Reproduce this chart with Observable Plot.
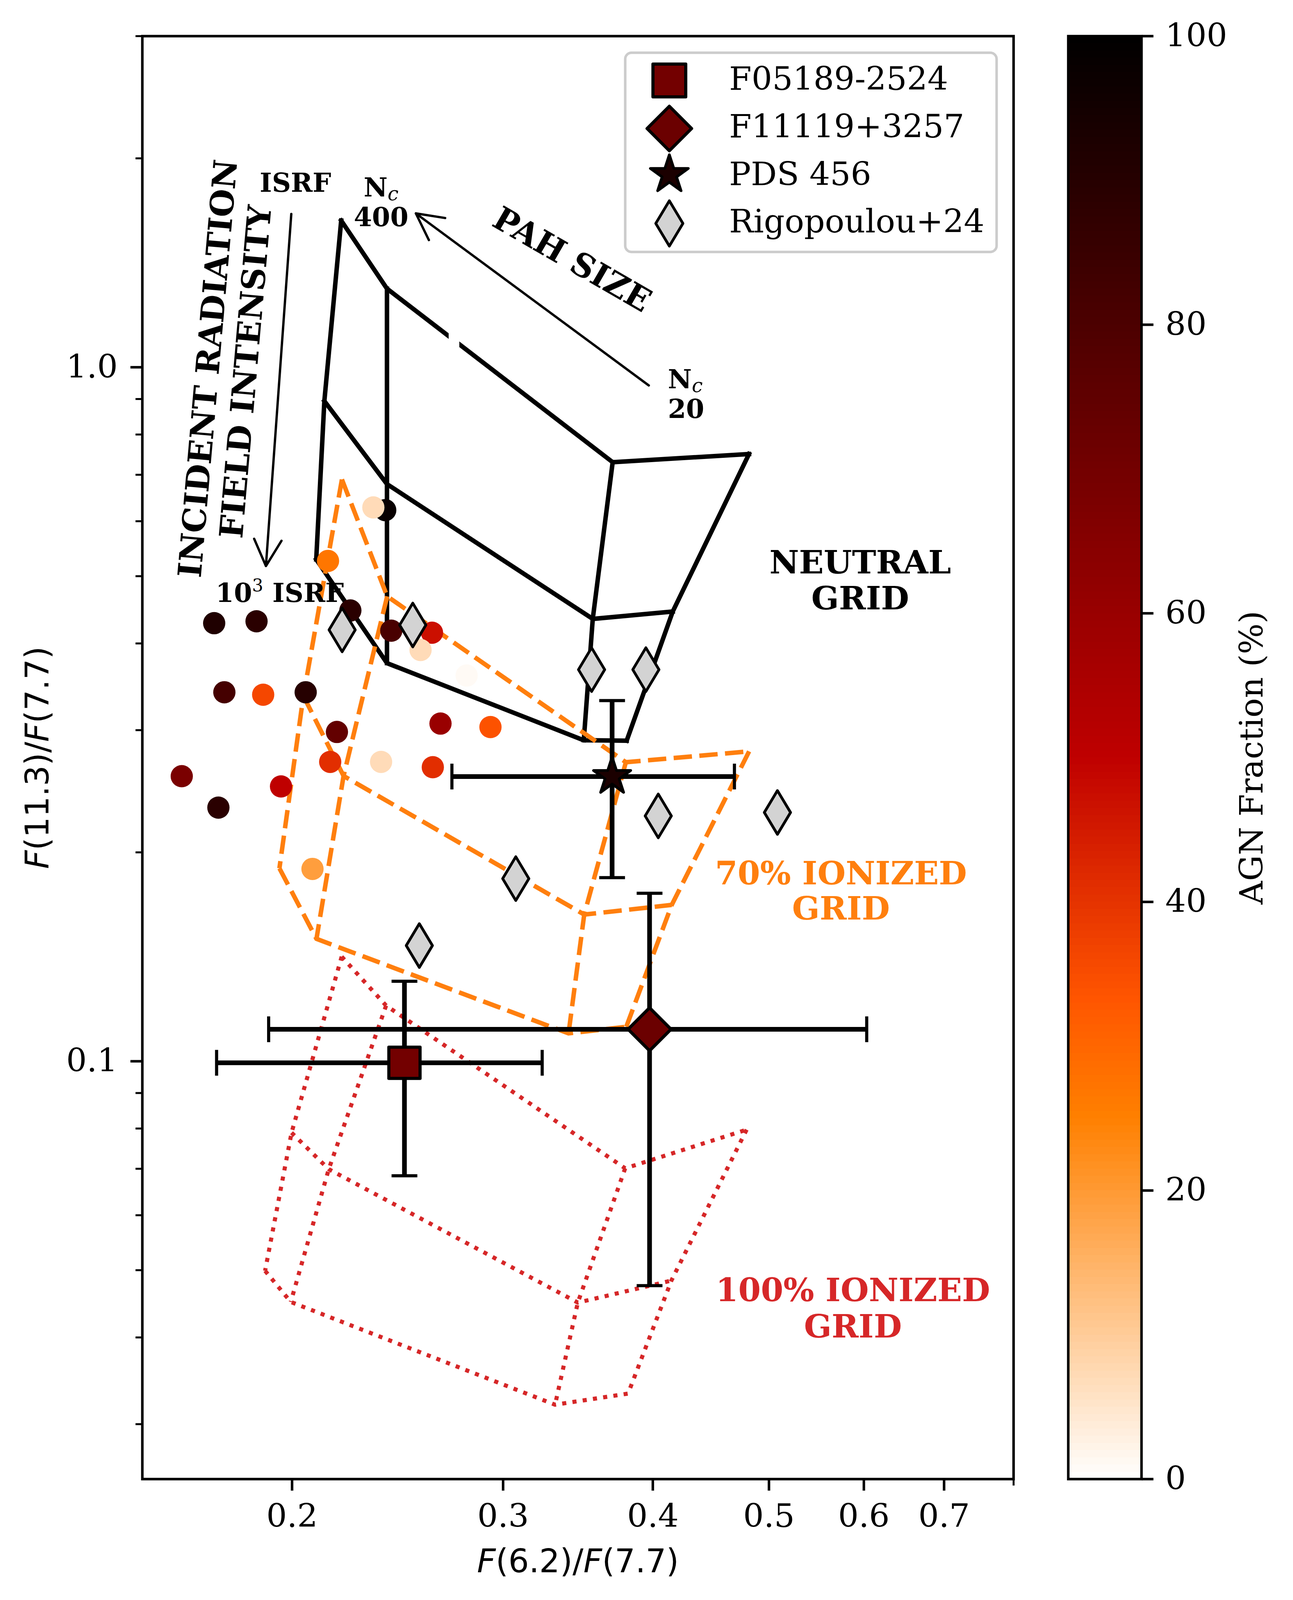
<!DOCTYPE html>
<html>
<head>
<meta charset="utf-8">
<script src="https://cdn.jsdelivr.net/npm/d3@7"></script>
<script src="https://cdn.jsdelivr.net/npm/@observablehq/plot@0.6"></script>
<style>
  html, body { margin: 0; padding: 0; background: #ffffff; }
  #fig { position: relative; width: 3311px; height: 4099px; overflow: hidden; background: #ffffff; }
  #fig svg { max-width: none; }
</style>
</head>
<body>
<div id="fig"></div>
<script>
// ---------------- DATA ----------------
// axis domains and ticks
const xDomain = [0.15, 0.8];
const yDomain = [0.025, 3.0];
const xMajorTicks = [0.2, 0.3, 0.4, 0.5, 0.6, 0.7];
const xMinorTicks = [0.8];
const yMajorTicks = [0.1, 1];
const yMinorTicks = [0.03, 0.04, 0.05, 0.06, 0.07, 0.08, 0.09, 0.2, 0.3, 0.4, 0.5, 0.6, 0.7, 0.8, 0.9, 2, 3];
const cbarTicks = [0, 20, 40, 60, 80, 100];

// AGN-fraction coloured comparison sample
const sampleX = [0.2392, 0.2338, 0.2143, 0.1722, 0.1868, 0.2237, 0.2420, 0.2617, 0.2560, 0.2797, 0.1756, 0.1892, 0.2053, 0.2180, 0.2660, 0.2928, 0.2152, 0.2373, 0.2621, 0.1618, 0.1958, 0.1736, 0.2080];
const sampleY = [0.6225, 0.6281, 0.5260, 0.4278, 0.4305, 0.4462, 0.4173, 0.4145, 0.3914, 0.3596, 0.3402, 0.3374, 0.3402, 0.2982, 0.3066, 0.3031, 0.2700, 0.2700, 0.2653, 0.2575, 0.2489, 0.2320, 0.1893];
const sampleAGN = [98, 7, 27, 92, 89, 89, 81, 47, 7, 1, 82, 36, 90, 74, 60, 34, 41, 7, 41, 68, 50, 89, 19];

// Rigopoulou+24
const rigoLabel = "Rigopoulou+24";
const rigoX = [0.2202, 0.2522, 0.3556, 0.3947, 0.4042, 0.5082, 0.3074, 0.2554];
const rigoY = [0.4184, 0.4252, 0.3667, 0.3667, 0.2257, 0.2283, 0.1833, 0.1468];

// Targets with error bars
const targetNames = ["F05189-2524", "F11119+3257", "PDS 456"];
const targetX = [0.2482, 0.3975, 0.3699];
const targetY = [0.0995, 0.1112, 0.2572];
const targetXlo = [0.1730, 0.1912, 0.2719];
const targetXhi = [0.3234, 0.6033, 0.4679];
const targetYlo = [0.0684, 0.0475, 0.1839];
const targetYhi = [0.1304, 0.1746, 0.3309];
const targetAGN = [70, 72, 93];

// Model grids: rows = radiation field (ISRF, mid, 10^3 ISRF), columns = N_c (400 ... 20)
const neutralX = [[0.2198, 0.2400, 0.3703, 0.4812], [0.2128, 0.2400, 0.3564, 0.4156], [0.2095, 0.2400, 0.3503, 0.3804]];
const neutralY = [[1.627, 1.298, 0.7298, 0.7499], [0.894, 0.6787, 0.4339, 0.4447], [0.5286, 0.3747, 0.2901, 0.2897]];
const ion70X = [[0.2201, 0.2401, 0.3798, 0.4813], [0.2044, 0.2208, 0.3506, 0.4148], [0.1952, 0.2096, 0.3402, 0.3801]];
const ion70Y = [[0.6892, 0.4677, 0.2697, 0.2796], [0.3361, 0.2577, 0.1627, 0.1680], [0.1897, 0.1501, 0.1097, 0.1121]];
const ion100X = [[0.2200, 0.2396, 0.3793, 0.4790], [0.1998, 0.2146, 0.3463, 0.4145], [0.1899, 0.1995, 0.3315, 0.3814]];
const ion100Y = [[0.1415, 0.1203, 0.0701, 0.0797], [0.0789, 0.0699, 0.0449, 0.0483], [0.0499, 0.0450, 0.0320, 0.0332]];
// small break in the neutral grid's top row
const neutralGapX = [0.2703, 0.2759];
const neutralGapY = [1.0614, 1.1427];

// annotation arrows
const arrowX1 = [0.1997, 0.3969];
const arrowY1 = [1.6631, 0.9414];
const arrowX2 = [0.1902, 0.2537];
const arrowY2 = [0.5171, 1.6661];

// annotation texts
const smallCenterText = ["ISRF", "N_c", "400"];
const smallCenterX = [0.2013, 0.2373, 0.2373];
const smallCenterY = [1.791, 1.762, 1.596];
const smallLeftText = ["N_c", "20", "10^3 ISRF"];
const smallLeftX = [0.4117, 0.4117, 0.1727];
const smallLeftY = [0.9324, 0.8452, 0.4589];
const neutralLabel = ["NEUTRAL", "GRID"];
const neutralLabelX = [0.5958, 0.5958];
const neutralLabelY = [0.5047, 0.4479];
const ion70Label = ["70% IONIZED", "GRID"];
const ion70LabelX = [0.5742, 0.5742];
const ion70LabelY = [0.1798, 0.1601];
const ion100Label = ["100% IONIZED", "GRID"];
const ion100LabelX = [0.5875, 0.5875];
const ion100LabelY = [0.0451, 0.0400];
const radiationLabel = ["INCIDENT RADIATION\nFIELD INTENSITY"];
const radiationX = [0.1761];
const radiationY = [0.991];
const sizeLabel = ["PAH SIZE"];
const sizeX = [0.3424];
const sizeY = [1.427];

const xLabel = "F(6.2)/F(7.7)";
const yLabel = "F(11.3)/F(7.7)";
const cbarLabel = "AGN Fraction (%)";

// ---------------- TABLES ----------------
const sample = sampleX.map((x, i) => ({x, y: sampleY[i], agn: sampleAGN[i]}));
const rigo = rigoX.map((x, i) => ({x, y: rigoY[i]}));
const targets = targetNames.map((name, i) => ({
  name, x: targetX[i], y: targetY[i], xlo: targetXlo[i], xhi: targetXhi[i],
  ylo: targetYlo[i], yhi: targetYhi[i], agn: targetAGN[i]
}));
function gridLines(X, Y) {
  const out = []; let id = 0;
  for (let r = 0; r < X.length; r++) { for (let c = 0; c < X[r].length; c++) out.push({x: X[r][c], y: Y[r][c], id}); id++; }
  for (let c = 0; c < X[0].length; c++) { for (let r = 0; r < X.length; r++) out.push({x: X[r][c], y: Y[r][c], id}); id++; }
  return out;
}
const neutralLines = gridLines(neutralX, neutralY);
const ion70Lines = gridLines(ion70X, ion70Y);
const ion100Lines = gridLines(ion100X, ion100Y);
const neutralGap = [{x1: neutralGapX[0], x2: neutralGapX[1], y1: neutralGapY[0], y2: neutralGapY[1]}];
const arrows = arrowX1.map((x1, i) => ({x1, y1: arrowY1[i], x2: arrowX2[i], y2: arrowY2[i]}));
const zipText = (T, X, Y) => T.map((text, i) => ({text, x: X[i], y: Y[i]}));

// ---------------- SYMBOLS ----------------
const sym = (fn) => ({draw(ctx, size) { fn(ctx, Math.sqrt(size / Math.PI)); }});
const squareSym = sym((c, r) => { c.moveTo(-r, -r); c.lineTo(r, -r); c.lineTo(r, r); c.lineTo(-r, r); c.closePath(); });
const diamondSym = sym((c, r) => { c.moveTo(0, -r); c.lineTo(r, 0); c.lineTo(0, r); c.lineTo(-r, 0); c.closePath(); });
const thinDiamondSym = sym((c, r) => { c.moveTo(0, -r); c.lineTo(0.6 * r, 0); c.lineTo(0, r); c.lineTo(-0.6 * r, 0); c.closePath(); });
const starSym = sym((c, r) => {
  const ri = r * 0.381966;
  for (let k = 0; k < 10; k++) {
    const a = -Math.PI / 2 + k * Math.PI / 5, rr = k % 2 ? ri : r;
    const px = rr * Math.cos(a), py = rr * Math.sin(a);
    if (k) c.lineTo(px, py); else c.moveTo(px, py);
  }
  c.closePath();
});
const vCapSym = sym((c, r) => { c.moveTo(0, -r); c.lineTo(0, r); });
const hCapSym = sym((c, r) => { c.moveTo(-r, 0); c.lineTo(r, 0); });

// gist_heat_r colour map (piecewise linear in RGB)
const colorScale = {
  type: "linear",
  domain: [0, 25, 100 / 3, 50, 100],
  range: ["#ffffff", "#ff8000", "#ff5500", "#bf0000", "#000000"],
  interpolate: "rgb"
};

// ---------------- LAYOUT ----------------
const W = 3311, H = 4099;
const frameL = 364, frameR = 2595, frameT = 92, frameB = 3786;
const SERIF = "'DejaVu Serif', serif";
const SANS = "'DejaVu Sans', sans-serif";
const ORANGE = "#ff7f0e", RED = "#d62728";
const headWing = 76, arrowSW = 6;

const main = Plot.plot({
  width: W, height: H,
  marginLeft: frameL, marginRight: W - frameR, marginTop: frameT, marginBottom: H - frameB,
  x: {type: "log", domain: xDomain},
  y: {type: "log", domain: yDomain},
  color: colorScale,
  style: {fontFamily: SERIF, fontSize: "83px", background: "white", maxWidth: "none", overflow: "visible"},
  marks: [
    // model grids
    Plot.line(neutralLines, {x: "x", y: "y", z: "id", stroke: "black", strokeWidth: 11.5, strokeLinejoin: "round", strokeLinecap: "square"}),
    Plot.rect(neutralGap, {x1: "x1", x2: "x2", y1: "y1", y2: "y2", fill: "white"}),
    Plot.line(ion70Lines, {x: "x", y: "y", z: "id", stroke: ORANGE, strokeWidth: 11.5, strokeDasharray: "47,19", strokeLinecap: "butt", strokeLinejoin: "round"}),
    Plot.line(ion100Lines, {x: "x", y: "y", z: "id", stroke: RED, strokeWidth: 10.5, strokeDasharray: "10.5,16", strokeLinecap: "butt", strokeLinejoin: "round"}),
    // arrows
    Plot.arrow(arrows, {x1: "x1", y1: "y1", x2: "x2", y2: "y2", stroke: "black", strokeWidth: arrowSW, headLength: headWing * 1.5 / arrowSW, headAngle: 55}),
    // annotation texts
    Plot.text(zipText(smallCenterText, smallCenterX, smallCenterY), {x: "x", y: "y", text: "text", textAnchor: "middle", lineAnchor: "bottom", fontWeight: "bold", fontSize: 67, fontFamily: SERIF, fill: "black"}),
    Plot.text(zipText(smallLeftText, smallLeftX, smallLeftY), {x: "x", y: "y", text: "text", textAnchor: "start", lineAnchor: "bottom", fontWeight: "bold", fontSize: 67, fontFamily: SERIF, fill: "black"}),
    Plot.text(zipText(neutralLabel, neutralLabelX, neutralLabelY), {x: "x", y: "y", text: "text", textAnchor: "middle", lineAnchor: "bottom", fontWeight: "bold", fontSize: 83, fontFamily: SERIF, fill: "black"}),
    Plot.text(zipText(ion70Label, ion70LabelX, ion70LabelY), {x: "x", y: "y", text: "text", textAnchor: "middle", lineAnchor: "bottom", fontWeight: "bold", fontSize: 83, fontFamily: SERIF, fill: ORANGE}),
    Plot.text(zipText(ion100Label, ion100LabelX, ion100LabelY), {x: "x", y: "y", text: "text", textAnchor: "middle", lineAnchor: "bottom", fontWeight: "bold", fontSize: 83, fontFamily: SERIF, fill: RED}),
    Plot.text(zipText(radiationLabel, radiationX, radiationY), {x: "x", y: "y", text: "text", textAnchor: "middle", lineAnchor: "middle", lineHeight: 1.17, rotate: -85, fontWeight: "bold", fontSize: 83, fontFamily: SERIF, fill: "black"}),
    Plot.text(zipText(sizeLabel, sizeX, sizeY), {x: "x", y: "y", text: "text", textAnchor: "middle", lineAnchor: "middle", rotate: 30, fontWeight: "bold", fontSize: 83, fontFamily: SERIF, fill: "black"}),
    // comparison sample
    Plot.dot(sample, {x: "x", y: "y", r: 28.5, fill: "agn", stroke: null}),
    Plot.dot(rigo, {x: "x", y: "y", symbol: thinDiamondSym, r: 56, fill: "#d3d3d3", stroke: "black", strokeWidth: 7, strokeLinejoin: "round"}),
    // error bars
    Plot.link(targets, {x1: "xlo", x2: "xhi", y1: "y", y2: "y", stroke: "black", strokeWidth: 12}),
    Plot.link(targets, {x1: "x", x2: "x", y1: "ylo", y2: "yhi", stroke: "black", strokeWidth: 12}),
    Plot.dot(targets, {x: "xlo", y: "y", symbol: vCapSym, r: 33, fill: "none", stroke: "black", strokeWidth: 8}),
    Plot.dot(targets, {x: "xhi", y: "y", symbol: vCapSym, r: 33, fill: "none", stroke: "black", strokeWidth: 8}),
    Plot.dot(targets, {x: "x", y: "ylo", symbol: hCapSym, r: 33, fill: "none", stroke: "black", strokeWidth: 8}),
    Plot.dot(targets, {x: "x", y: "yhi", symbol: hCapSym, r: 33, fill: "none", stroke: "black", strokeWidth: 8}),
    // target markers
    Plot.dot(targets.slice(0, 1), {x: "x", y: "y", symbol: squareSym, r: 40, fill: "agn", stroke: "black", strokeWidth: 8, strokeLinejoin: "round"}),
    Plot.dot(targets.slice(1, 2), {x: "x", y: "y", symbol: diamondSym, r: 55, fill: "agn", stroke: "black", strokeWidth: 8, strokeLinejoin: "round"}),
    Plot.dot(targets.slice(2, 3), {x: "x", y: "y", symbol: starSym, r: 50, fill: "agn", stroke: "black", strokeWidth: 7, strokeLinejoin: "round"}),
    // axes
    Plot.axisY({ticks: yMinorTicks, tickSize: 17, strokeWidth: 5, tickFormat: () => "", label: null}),
    Plot.axisY({ticks: yMajorTicks, tickSize: 30, tickPadding: 33, strokeWidth: 6.5, tickFormat: (d) => d.toFixed(1), label: null}),
    Plot.axisX({ticks: xMinorTicks, tickSize: 17, strokeWidth: 5, tickFormat: () => "", label: null}),
    Plot.axisX({ticks: xMajorTicks, tickSize: 30, tickPadding: 34, strokeWidth: 6.5, tickFormat: (d) => String(d), label: null}),
    Plot.text([xLabel], {text: (d) => d, frameAnchor: "bottom", dy: 238, textAnchor: "middle", lineAnchor: "bottom", fontFamily: SANS, fontSize: 83, fill: "black"}),
    Plot.text([yLabel], {text: (d) => d, frameAnchor: "left", dx: -267, rotate: -90, textAnchor: "middle", lineAnchor: "middle", fontFamily: SANS, fontSize: 83, fill: "black"}),
    Plot.frame({stroke: "black", strokeWidth: 6.5})
  ]
});

// rich text (italic F, subscripts, superscripts)
function richify(svg) {
  d3.select(svg).selectAll("text").each(function () {
    const s = this.textContent;
    const t = d3.select(this);
    if (s === xLabel || s === yLabel) {
      t.text(null);
      s.split(/(F)/).filter(Boolean).forEach((p) => {
        const ts = t.append("tspan").text(p);
        if (p === "F") ts.attr("font-style", "italic");
      });
    } else if (s === "N_c") {
      t.text(null);
      t.append("tspan").text("N");
      t.append("tspan").attr("font-style", "italic").attr("font-weight", "normal").attr("font-size", "50px").attr("dy", "10").text("c");
    } else if (s === "10^3 ISRF") {
      t.text(null);
      t.append("tspan").text("10");
      t.append("tspan").attr("font-weight", "normal").attr("font-size", "45px").attr("dy", "-27").text("3");
      t.append("tspan").attr("dy", "27").text(" ISRF");
    }
  });
}
richify(main);
main.style.position = "absolute";
main.style.left = "0px";
main.style.top = "0px";
const fig = document.getElementById("fig");
fig.appendChild(main);

// ---------------- COLORBAR ----------------
const cbLeft = 2735, cbRight = 2922.6;
const cbStep = 0.5;
const cbStops = d3.range(0, 100, cbStep);
const cbar = Plot.plot({
  width: W - cbLeft, height: H,
  marginLeft: 0, marginRight: (W - cbLeft) - (cbRight - cbLeft), marginTop: frameT, marginBottom: H - frameB,
  x: {domain: [0, 1], axis: null},
  y: {domain: [0, 100], axis: null},
  color: colorScale,
  style: {fontFamily: SERIF, fontSize: "83px", background: "transparent", maxWidth: "none", overflow: "visible"},
  marks: [
    Plot.rect(cbStops, {x1: () => 0, x2: () => 1, y1: (d) => d, y2: (d) => Math.min(100, d + cbStep * 1.2), fill: (d) => d + cbStep / 2, shapeRendering: "crispEdges"}),
    Plot.frame({stroke: "black", strokeWidth: 6.5}),
    Plot.axisY({anchor: "right", ticks: cbarTicks, tickSize: 30, tickPadding: 31, strokeWidth: 6.5, tickFormat: (d) => String(d), label: null}),
    Plot.text([cbarLabel], {text: (d) => d, frameAnchor: "right", dx: 283.5, rotate: -90, textAnchor: "middle", lineAnchor: "middle", fontFamily: SERIF, fontSize: 83, fill: "black"})
  ]
});
cbar.style.position = "absolute";
cbar.style.left = cbLeft + "px";
cbar.style.top = "0px";
fig.appendChild(cbar);

// ---------------- LEGEND ----------------
const colorOf = main.scale("color");
const legendItems = [
  {label: targetNames[0], symbol: squareSym, r: 42, fill: colorOf.apply(targetAGN[0]), sw: 8},
  {label: targetNames[1], symbol: diamondSym, r: 57, fill: colorOf.apply(targetAGN[1]), sw: 8},
  {label: targetNames[2], symbol: starSym, r: 51, fill: colorOf.apply(targetAGN[2]), sw: 7},
  {label: rigoLabel, symbol: thinDiamondSym, r: 58, fill: "#d3d3d3", sw: 7}
];
const legLeft = 1590, legTop = 125;
const leg = d3.create("svg")
  .attr("width", 975).attr("height", 530)
  .style("position", "absolute").style("left", legLeft + "px").style("top", legTop + "px")
  .style("overflow", "visible").style("font-family", SERIF);
leg.append("rect").attr("x", 11).attr("y", 10).attr("width", 951).attr("height", 510).attr("rx", 16)
  .attr("fill", "rgba(255,255,255,0.8)").attr("stroke", "#cccccc").attr("stroke-width", 6.5);
const rowMarkerY = [81, 204, 322, 447];
const rowTextY = [105, 227, 349, 470];
legendItems.forEach((it, i) => {
  const p = d3.path();
  it.symbol.draw(p, it.r * it.r * Math.PI);
  leg.append("path").attr("d", p.toString()).attr("transform", `translate(124,${rowMarkerY[i]})`)
    .attr("fill", it.fill).attr("stroke", "black").attr("stroke-width", it.sw).attr("stroke-linejoin", "round");
  leg.append("text").attr("x", 277).attr("y", rowTextY[i]).attr("font-size", 83).attr("fill", "black").text(it.label);
});
fig.appendChild(leg.node());
</script>
</body>
</html>
